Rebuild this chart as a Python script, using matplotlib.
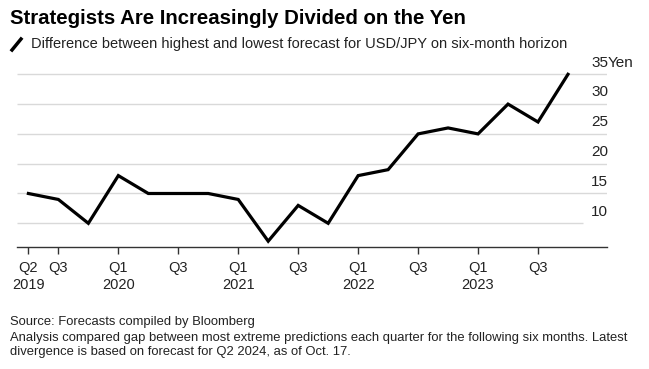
import matplotlib.pyplot as plt
from matplotlib.lines import Line2D

# quarterly gap between highest and lowest USD/JPY forecast, Q2 2019 .. Q4 2023
quarters = ["Q2 2019", "Q3 2019", "Q4 2019",
            "Q1 2020", "Q2 2020", "Q3 2020", "Q4 2020",
            "Q1 2021", "Q2 2021", "Q3 2021", "Q4 2021",
            "Q1 2022", "Q2 2022", "Q3 2022", "Q4 2022",
            "Q1 2023", "Q2 2023", "Q3 2023", "Q4 2023"]
gap = [15, 14, 10, 18, 15, 15, 15, 14, 7, 13, 10, 18, 19, 25, 26, 25, 30, 27, 35]

tick_idx = [0, 1, 3, 5, 7, 9, 11, 13, 15, 17]
tick_labels = ["Q2\n2019", "Q3", "Q1\n2020", "Q3", "Q1\n2021", "Q3",
               "Q1\n2022", "Q3", "Q1\n2023", "Q3"]
y_levels = [10, 15, 20, 25, 30, 35]

plt.rcParams['font.family'] = ['Liberation Sans', 'DejaVu Sans']

fig = plt.figure(figsize=(6.49, 3.69), dpi=100)
ax = fig.add_axes([0.0262, 0.3314, 0.909, 0.4753])

x = list(range(len(gap)))
ax.set_xlim(-0.38, 19.3)
ax.set_ylim(6.07, 35.5)

# gridlines (lowest one is a bit shorter, like the original)
for v in y_levels:
    xmax = 18.5 if v == 10 else 19.3
    ax.hlines(v, -0.38, xmax, color="#d9d9d9", linewidth=1, zorder=1)
    ax.annotate(str(v), xy=(19.3, v), xytext=(0.8, 5.5), textcoords="offset points",
                ha="right", va="baseline", fontsize=11, color="#222222")
ax.annotate("Yen", xy=(19.3, 35), xytext=(0.8, 5.5), textcoords="offset points",
            ha="left", va="baseline", fontsize=11, color="#222222")

ax.plot(x, gap, color="black", linewidth=2.3, zorder=3, solid_joinstyle="miter")

for s in ["top", "right", "left"]:
    ax.spines[s].set_visible(False)
ax.spines["bottom"].set_color("#333333")
ax.spines["bottom"].set_linewidth(1)
ax.set_yticks([])
ax.set_xticks(tick_idx)
ax.set_xticklabels(tick_labels, fontsize=10.5, color="#222222", linespacing=1.35)
ax.tick_params(axis="x", length=5, width=1, color="#333333", pad=5)

fig.text(0.016, 0.951, "Strategists Are Increasingly Divided on the Yen",
         fontsize=14.7, fontweight="bold", va="center", ha="left")
fig.add_artist(Line2D([12 / 649, 21 / 649], [1 - 50 / 369, 1 - 39 / 369],
                      color="black", linewidth=2.5, transform=fig.transFigure))
fig.text(0.047, 1 - 44 / 369,
         "Difference between highest and lowest forecast for USD/JPY on six-month horizon",
         fontsize=10.5, va="center", ha="left", color="#222222")

fig.text(0.016, 1 - 322.5 / 369, "Source: Forecasts compiled by Bloomberg",
         fontsize=9.4, va="center", ha="left", color="#222222")
fig.text(0.016, 1 - 345 / 369,
         "Analysis compared gap between most extreme predictions each quarter for the following six months. Latest\n"
         "divergence is based on forecast for Q2 2024, as of Oct. 17.",
         fontsize=9.4, va="center", ha="left", color="#222222", linespacing=1.15)

plt.savefig("out.png", dpi=100)
plt.close()
